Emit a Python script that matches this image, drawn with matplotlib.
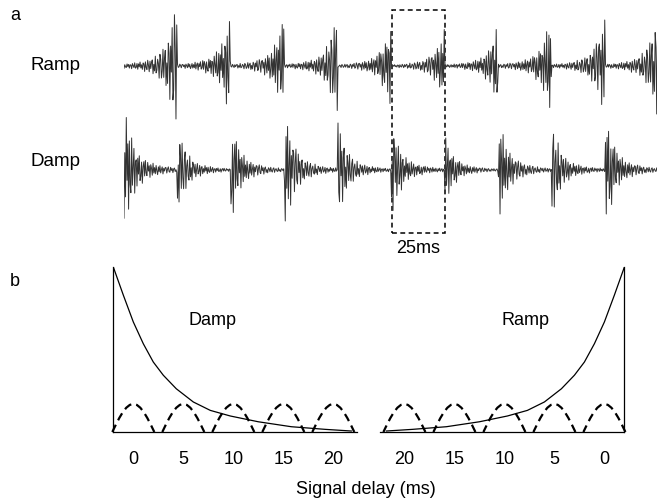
import numpy as np
import matplotlib
matplotlib.use("Agg")
import matplotlib.pyplot as plt
from matplotlib.patches import Rectangle

plt.rcParams['font.family'] = ['Liberation Sans', 'DejaVu Sans']
plt.rcParams['lines.scale_dashes'] = False

# envelope of one cycle: delay (ms) vs relative amplitude
env_delay = np.array([-2.0, -1.0, 0.0, 1.0, 2.0, 3.0, 4.3, 6.0, 7.7, 9.7, 12.5, 15.8, 19.2, 21.8])
env_amp = np.array([1.0, 0.83, 0.667, 0.535, 0.424, 0.344, 0.262, 0.182, 0.131, 0.097, 0.062, 0.032, 0.016, 0.006])

# temporal windows drawn under the envelopes
window_centers = [0, 5, 10, 15, 20]
window_labels = ['0', '5', '10', '15', '20']
window_u = np.array([-1, -5/6, -4/6, -3/6, -2/6, -1/6, 0, 1/6, 2/6, 3/6, 4/6, 5/6, 1])
window_h = np.array([0, 0.259, 0.5, 0.707, 0.866, 0.966, 1, 0.966, 0.866, 0.707, 0.5, 0.259, 0])

# noise carrier samples
carrier = np.array([
    0.62, -0.85, 0.31, 0.94, -0.47, -0.72, 0.88, -0.15, 0.53, -0.96,
    0.40, 0.77, -0.63, 0.12, -0.81, 0.69, 0.35, -0.58, 0.91, -0.28,
    -0.74, 0.46, 0.83, -0.92, 0.21, 0.57, -0.39, -0.66, 0.98, -0.51,
    0.18, -0.87, 0.72, 0.44, -0.33, 0.64, -0.79, 0.09, 0.86, -0.55,
    -0.24, 0.71, -0.97, 0.38, 0.59, -0.68, 0.26, -0.43, 0.90, -0.19,
    0.52, -0.84, 0.67, -0.36, -0.61, 0.93, -0.48, 0.14, 0.78, -0.90,
    0.33, 0.45, -0.76, 0.60, -0.22, 0.82, -0.65, -0.41, 0.56, -0.99,
    0.27, 0.70, -0.53, 0.89, -0.30, -0.57, 0.80, -0.12, 0.49, -0.88,
    0.66, 0.23, -0.70, 0.95, -0.44, 0.37, -0.60, 0.75, -0.17, -0.83,
    0.58, -0.34, 0.87, -0.62, 0.11, 0.73, -0.95, 0.42, -0.26, 0.68])

period = 25.0
n_per = 70
ramp_gain = [1.06, 0.89, 0.83, 0.89, 0.75, 0.73, 0.73, 0.83, 0.92, 0.96]
damp_gain = [1.05, 0.64, 0.85, 1.02, 0.94, 0.81, 0.64, 0.88, 0.74, 0.88]
ramp_shift = [0, 37, 71, 14, 58, 83, 26, 49, 92, 7]
damp_shift = [45, 12, 66, 88, 3, 29, 54, 77, 20, 61]


def make_train(gains, shifts, reverse):
    s = np.arange(n_per) * period / n_per
    env = np.interp(s, env_delay - env_delay[0], env_amp) + 0.03
    t_all, y_all = [], []
    for k, (g, sh) in enumerate(zip(gains, shifts)):
        burst = np.roll(carrier, -sh)[:n_per] * env
        burst = burst * g / np.abs(burst).max()
        if reverse:
            burst = burst[::-1]
        t_all.append(k * period + s)
        y_all.append(burst)
    return np.concatenate(t_all), np.concatenate(y_all)


fig = plt.figure(figsize=(6.57, 5.04), dpi=100)
W, H = 657.0, 504.0

# ---- panel a: waveforms
ax_a = fig.add_axes([124 / W, 1 - 260 / H, 533 / W, 260 / H])
t_r, y_r = make_train(ramp_gain, ramp_shift, reverse=True)
t_d, y_d = make_train(damp_gain, damp_shift, reverse=False)
ax_a.plot(t_r, y_r, color='#333333', lw=0.7)
ax_a.plot(t_d, y_d - 2.08, color='#333333', lw=0.7)
ax_a.add_patch(Rectangle((125, -3.34), 25, 4.46, fill=False, ls=(0, (3.5, 2.5)),
                         lw=1.1, color='black', clip_on=False))
ax_a.text(137.5, -3.64, '25ms', ha='center', va='center', fontsize=13)
ax_a.set_xlim(0, 533 / 2.14)
ax_a.set_ylim(-3.88, 1.32)
ax_a.axis('off')

fig.text(30 / W, 1 - 66 / H, 'Ramp', ha='left', va='center', fontsize=13.5)
fig.text(30 / W, 1 - 162 / H, 'Damp', ha='left', va='center', fontsize=13.5)
fig.text(10 / W, 1 - 15 / H, 'a', ha='left', va='center', fontsize=13)
fig.text(10 / W, 1 - 282 / H, 'b', ha='left', va='center', fontsize=13)

# ---- panel b: envelopes with the delay windows
for left_px, side, name in [(113.3, 'left', 'Damp'), (380.4, 'right', 'Ramp')]:
    ax = fig.add_axes([left_px / W, 1 - 432 / H, 244 / W, 165 / H])
    ax.plot(env_delay, env_amp, color='black', lw=0.9)
    for c in window_centers:
        ax.plot(c + window_u * 2.1, window_h * 0.17, color='black', lw=1.6,
                ls=(0, (5.8, 3.6)), clip_on=False)
    if side == 'left':
        ax.set_xlim(-2.0, 22.4)
    else:
        ax.set_xlim(22.4, -2.0)
    ax.set_ylim(0, 1)
    for sp in ['top', 'right', 'left']:
        ax.spines[sp].set_visible(False)
    ax.spines[side].set_visible(True)
    for sp in ax.spines.values():
        sp.set_linewidth(0.9)
    ax.set_xticks(window_centers)
    ax.set_xticklabels(window_labels, fontsize=13)
    ax.set_yticks([])
    ax.tick_params(axis='x', length=0, pad=14)
    ax.patch.set_visible(False)
    ax.text(7.9, 0.673, name, ha='center', va='center', fontsize=13)

fig.text(366 / W, 1 - 489 / H, 'Signal delay (ms)', ha='center', va='center', fontsize=13)

plt.savefig('out.png', dpi=100)
